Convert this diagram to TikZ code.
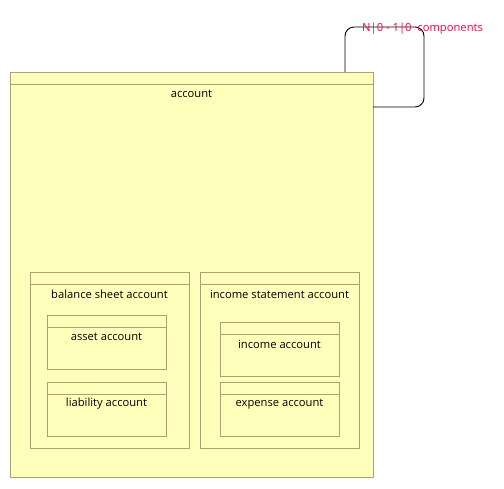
\documentclass[tikz,border=0pt]{standalone}
\usepackage{fontspec}
\setmainfont{Open Sans}
\definecolor{boxfill}{RGB}{255,255,187}
\definecolor{boxline}{RGB}{170,162,112}
\definecolor{lbl}{RGB}{255,0,60}
\begin{document}
\begin{tikzpicture}[x=1pt,y=-1pt,
  frame/.style={draw=boxline,fill=boxfill,line width=0.9pt},
  sep/.style={draw=boxline,line width=0.9pt},
  title/.style={font=\fontsize{11.2}{13}\selectfont,text=black,anchor=center,inner sep=0pt,yshift=-1pt},
  link/.style={draw=black,line width=0.9pt,rounded corners=9pt}]
\useasboundingbox (0,0) rectangle (504,488);
% outer
\draw[frame] (10,72) rectangle (373,477);
\draw[sep] (10,84) -- (373,84);
\node[title] (account) at (191.5,93) {account};
% balance sheet
\draw[frame] (30,272) rectangle (189,448);
\draw[sep] (30,284) -- (189,284);
\node[title] (bsa) at (109.5,293) {balance sheet account};
\draw[frame] (47,315) rectangle (166,369);
\draw[sep] (47,327) -- (166,327);
\node[title] (asset) at (106.5,336) {asset account};
\draw[frame] (47,382) rectangle (166,436);
\draw[sep] (47,394) -- (166,394);
\node[title] (liab) at (106.5,403) {liability account};
% income statement
\draw[frame] (200,272) rectangle (359,448);
\draw[sep] (200,284) -- (359,284);
\node[title] (isa) at (279.5,293) {income statement account};
\draw[frame] (220,322) rectangle (339,376);
\draw[sep] (220,334) -- (339,334);
\node[title] (inc) at (279.5,343) {income account};
\draw[frame] (220,382) rectangle (339,436);
\draw[sep] (220,394) -- (339,394);
\node[title] (exp) at (279.5,403) {expense account};
% self loop
\coordinate (s) at (345,72);
\coordinate (e) at (373,107);
\draw[link] (s) -- (345,27) -- (424,27) -- (424,107) -- (e);
\node[title,text=lbl,anchor=west] (mult) at (362,28) {N|0 - 1|0\ \ components};
\end{tikzpicture}
\end{document}
